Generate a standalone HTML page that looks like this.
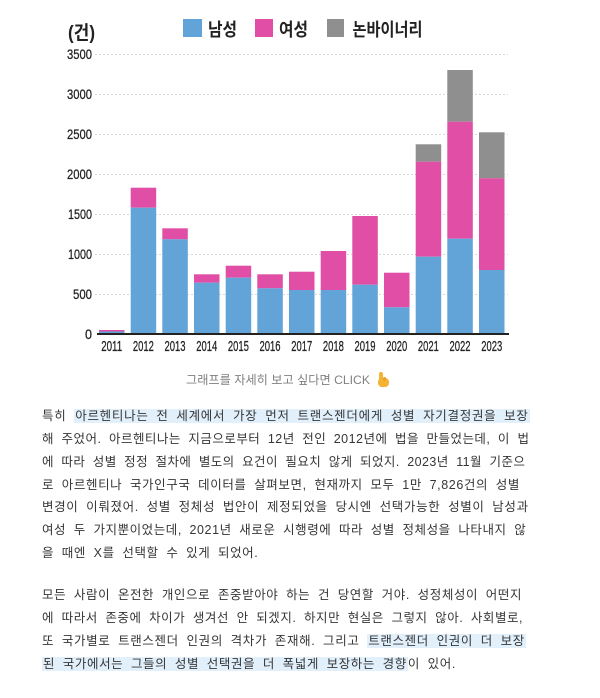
<!DOCTYPE html>
<html><head><meta charset="utf-8">
<style>
html,body{margin:0;padding:0;background:#fff;}
body{width:600px;height:698px;position:relative;overflow:hidden;font-family:"Liberation Sans","Noto Sans CJK KR",sans-serif;}
svg{position:absolute;left:0;top:0;}
.ln{position:absolute;left:42px;height:22px;line-height:22px;font-size:12.5px;color:#363636;white-space:nowrap;letter-spacing:0.6px;word-spacing:3.6px;font-family:"Liberation Sans","Noto Sans CJK KR",sans-serif;}
.hl{background:#e2f0fc;padding:0 1px;}
.cap{position:absolute;left:186px;top:371px;height:18px;line-height:18px;font-size:12.2px;color:#808080;white-space:nowrap;font-family:"Liberation Sans","Noto Sans CJK KR",sans-serif;}
</style></head>
<body>
<svg width="600" height="400" viewBox="0 0 600 400" xmlns="http://www.w3.org/2000/svg">
  <g stroke="#d8d8d8" stroke-width="1" stroke-dasharray="2,2">
    <line x1="95" y1="54.5" x2="508" y2="54.5"/>
    <line x1="95" y1="94.5" x2="508" y2="94.5"/>
    <line x1="95" y1="134.5" x2="508" y2="134.5"/>
    <line x1="95" y1="174.5" x2="508" y2="174.5"/>
    <line x1="95" y1="214.5" x2="508" y2="214.5"/>
    <line x1="95" y1="254.5" x2="508" y2="254.5"/>
    <line x1="95" y1="294.5" x2="508" y2="294.5"/>
  </g>
  <g font-family="Liberation Sans, sans-serif" font-size="14" fill="#222" stroke="#222" stroke-width="0.25" text-anchor="end">
    <text x="92" y="59" textLength="25" lengthAdjust="spacingAndGlyphs">3500</text>
    <text x="92" y="99" textLength="25" lengthAdjust="spacingAndGlyphs">3000</text>
    <text x="92" y="139" textLength="25" lengthAdjust="spacingAndGlyphs">2500</text>
    <text x="92" y="179" textLength="25" lengthAdjust="spacingAndGlyphs">2000</text>
    <text x="92" y="219" textLength="24" lengthAdjust="spacingAndGlyphs">1500</text>
    <text x="92" y="259" textLength="24" lengthAdjust="spacingAndGlyphs">1000</text>
    <text x="92" y="299" textLength="19" lengthAdjust="spacingAndGlyphs">500</text>
    <text x="92" y="339" textLength="7" lengthAdjust="spacingAndGlyphs">0</text>
  </g>
  <g>
    <rect x="99" y="330" width="25.5" height="4" fill="#e04fa5"/>
    <rect x="99" y="331.5" width="25.5" height="2.5" fill="#62a3d8"/>
    <rect x="130.7" y="187.7" width="25.5" height="20" fill="#e04fa5"/>
    <rect x="130.7" y="207.7" width="25.5" height="126.3" fill="#62a3d8"/>
    <rect x="162.3" y="228.3" width="25.5" height="11" fill="#e04fa5"/>
    <rect x="162.3" y="239.3" width="25.5" height="94.7" fill="#62a3d8"/>
    <rect x="194" y="274.3" width="25.5" height="8.4" fill="#e04fa5"/>
    <rect x="194" y="282.7" width="25.5" height="51.3" fill="#62a3d8"/>
    <rect x="225.7" y="265.7" width="25.5" height="12" fill="#e04fa5"/>
    <rect x="225.7" y="277.7" width="25.5" height="56.3" fill="#62a3d8"/>
    <rect x="257.3" y="274.3" width="25.5" height="14" fill="#e04fa5"/>
    <rect x="257.3" y="288.3" width="25.5" height="45.7" fill="#62a3d8"/>
    <rect x="289" y="271.7" width="25.5" height="18.3" fill="#e04fa5"/>
    <rect x="289" y="290" width="25.5" height="44" fill="#62a3d8"/>
    <rect x="320.7" y="251" width="25.5" height="39" fill="#e04fa5"/>
    <rect x="320.7" y="290" width="25.5" height="44" fill="#62a3d8"/>
    <rect x="352.3" y="216" width="25.5" height="68.7" fill="#e04fa5"/>
    <rect x="352.3" y="284.7" width="25.5" height="49.3" fill="#62a3d8"/>
    <rect x="384" y="272.7" width="25.5" height="34.6" fill="#e04fa5"/>
    <rect x="384" y="307.3" width="25.5" height="26.7" fill="#62a3d8"/>
    <rect x="415.7" y="144.3" width="25.5" height="17.4" fill="#8f8f8f"/>
    <rect x="415.7" y="161.7" width="25.5" height="95" fill="#e04fa5"/>
    <rect x="415.7" y="256.7" width="25.5" height="77.3" fill="#62a3d8"/>
    <rect x="447.3" y="70" width="25.5" height="51.7" fill="#8f8f8f"/>
    <rect x="447.3" y="121.7" width="25.5" height="117" fill="#e04fa5"/>
    <rect x="447.3" y="238.7" width="25.5" height="95.3" fill="#62a3d8"/>
    <rect x="479" y="132.3" width="25.5" height="46" fill="#8f8f8f"/>
    <rect x="479" y="178.3" width="25.5" height="91.7" fill="#e04fa5"/>
    <rect x="479" y="270" width="25.5" height="64" fill="#62a3d8"/>
  </g>
  <line x1="97" y1="334" x2="509" y2="334" stroke="#222" stroke-width="2"/>
  <g font-family="Liberation Sans, sans-serif" font-size="15" fill="#222" stroke="#222" stroke-width="0.25" text-anchor="middle">
    <text x="111.7" y="351" textLength="21" lengthAdjust="spacingAndGlyphs">2011</text>
    <text x="143.4" y="351" textLength="21" lengthAdjust="spacingAndGlyphs">2012</text>
    <text x="175" y="351" textLength="21" lengthAdjust="spacingAndGlyphs">2013</text>
    <text x="206.7" y="351" textLength="21" lengthAdjust="spacingAndGlyphs">2014</text>
    <text x="238.4" y="351" textLength="21" lengthAdjust="spacingAndGlyphs">2015</text>
    <text x="270" y="351" textLength="21" lengthAdjust="spacingAndGlyphs">2016</text>
    <text x="301.7" y="351" textLength="21" lengthAdjust="spacingAndGlyphs">2017</text>
    <text x="333.4" y="351" textLength="21" lengthAdjust="spacingAndGlyphs">2018</text>
    <text x="365" y="351" textLength="21" lengthAdjust="spacingAndGlyphs">2019</text>
    <text x="396.7" y="351" textLength="21" lengthAdjust="spacingAndGlyphs">2020</text>
    <text x="428.4" y="351" textLength="21" lengthAdjust="spacingAndGlyphs">2021</text>
    <text x="460" y="351" textLength="21" lengthAdjust="spacingAndGlyphs">2022</text>
    <text x="491.7" y="351" textLength="21" lengthAdjust="spacingAndGlyphs">2023</text>
  </g>
  <text x="68" y="39" font-family="Liberation Sans, Noto Sans CJK KR, sans-serif" font-size="19" fill="#222" font-weight="bold" textLength="27" lengthAdjust="spacingAndGlyphs">(건)</text>
  <rect x="183" y="19" width="19" height="18" fill="#62a3d8"/>
  <text x="208" y="36" font-family="Liberation Sans, Noto Sans CJK KR, sans-serif" font-size="18" fill="#222" font-weight="bold" textLength="29" lengthAdjust="spacingAndGlyphs">남성</text>
  <rect x="255" y="19" width="18" height="18" fill="#e04fa5"/>
  <text x="279" y="36" font-family="Liberation Sans, Noto Sans CJK KR, sans-serif" font-size="18" fill="#222" font-weight="bold" textLength="29" lengthAdjust="spacingAndGlyphs">여성</text>
  <rect x="327" y="19" width="17" height="18" fill="#8f8f8f"/>
  <text x="352.5" y="36" font-family="Liberation Sans, Noto Sans CJK KR, sans-serif" font-size="18" fill="#222" font-weight="bold" textLength="70" lengthAdjust="spacingAndGlyphs">논바이너리</text>
  <g transform="translate(376,372)">
    <rect x="3" y="0" width="4" height="9" rx="2" fill="#f5b335"/>
    <rect x="2" y="6" width="11" height="9" rx="4" fill="#f5b335"/>
    <rect x="7" y="5" width="3" height="4" rx="1.5" fill="#e9a02a"/>
  </g>
</svg>

<div class="cap">그래프를 자세히 보고 싶다면 CLICK</div>

<div class="ln" style="top:405px;letter-spacing:0.72px;">특히 <span class="hl">아르헨티나는 전 세계에서 가장 먼저 트랜스젠더에게 성별 자기결정권을 보장</span></div>
<div class="ln" style="top:428px;letter-spacing:0.48px;">해 주었어. 아르헨티나는 지금으로부터 12년 전인 2012년에 법을 만들었는데, 이 법</div>
<div class="ln" style="top:451px;letter-spacing:0.43px;">에 따라 성별 정정 절차에 별도의 요건이 필요치 않게 되었지. 2023년 11월 기준으</div>
<div class="ln" style="top:474px;">로 아르헨티나 국가인구국 데이터를 살펴보면, 현재까지 모두 1만 7,826건의 성별</div>
<div class="ln" style="top:496px;letter-spacing:0.65px;">변경이 이뤄졌어. 성별 정체성 법안이 제정되었을 당시엔 선택가능한 성별이 남성과</div>
<div class="ln" style="top:519px;letter-spacing:0.56px;">여성 두 가지뿐이었는데, 2021년 새로운 시행령에 따라 성별 정체성을 나타내지 않</div>
<div class="ln" style="top:542px;">을 때엔 X를 선택할 수 있게 되었어.</div>

<div class="ln" style="top:584px;">모든 사람이 온전한 개인으로 존중받아야 하는 건 당연할 거야. 성정체성이 어떤지</div>
<div class="ln" style="top:607px;letter-spacing:0.54px;">에 따라서 존중에 차이가 생겨선 안 되겠지. 하지만 현실은 그렇지 않아. 사회별로,</div>
<div class="ln" style="top:630px;letter-spacing:0.64px;">또 국가별로 트랜스젠더 인권의 격차가 존재해. 그리고 <span class="hl">트랜스젠더 인권이 더 보장</span></div>
<div class="ln" style="top:653px;"><span class="hl">된 국가에서는 그들의 성별 선택권을 더 폭넓게 보장하는 경향</span>이 있어.</div>
</body></html>
